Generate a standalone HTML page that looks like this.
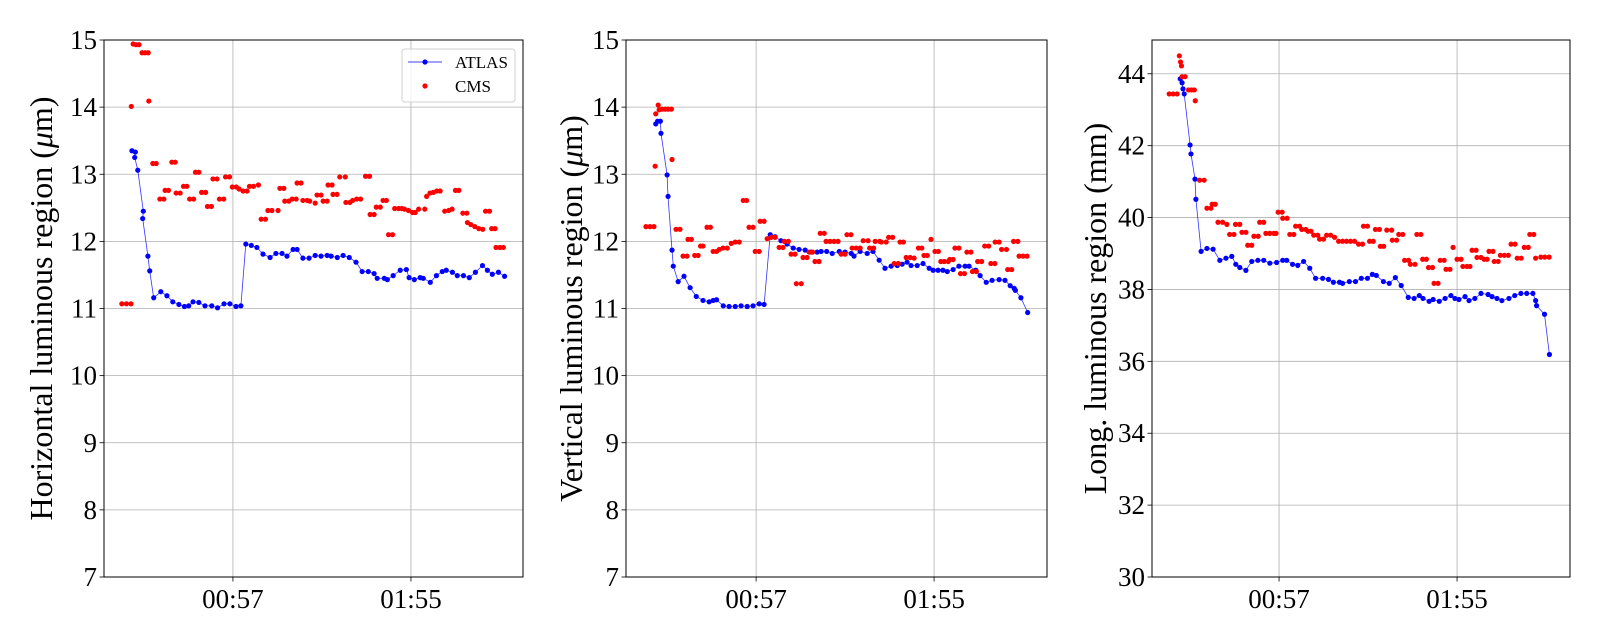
<!DOCTYPE html>
<html><head><meta charset="utf-8"><style>
html,body{margin:0;padding:0;background:#fff}
svg{display:block;font-family:"Liberation Serif",serif}
</style></head><body>
<svg id="chart" width="1600" height="640" viewBox="0 0 1600 640" xmlns="http://www.w3.org/2000/svg"></svg>
<script>
// ---------- data ----------
const xTickLabels = ["00:57","01:55"];
const xTickMinutes = [57,115];
const p1YTicks = [7,8,9,10,11,12,13,14,15];
const p2YTicks = [7,8,9,10,11,12,13,14,15];
const p3YTicks = [30,32,34,36,38,40,42,44];
const seriesNames = ["ATLAS","CMS"];

const p1AtlasT = [24.1,25.2,25.0,26.0,27.8,27.6,29.3,29.9,31.2,33.5,35.5,37.4,39.4,41.2,42.6,44.0,45.9,47.9,50.1,52.0,54.1,56.0,58.0,59.6,61.2,63.0,64.8,66.8,69.1,71.0,73.0,74.6,76.6,77.9,79.8,81.8,83.8,85.7,87.7,89.0,91.0,92.9,94.9,97.1,99.1,101.1,103.0,104.0,106.3,107.3,109.2,111.5,113.5,114.4,116.1,118.0,119.0,121.3,123.3,125.2,126.5,128.5,130.1,132.1,134.0,136.0,138.3,139.9,141.5,143.5,145.5];
const p1AtlasV = [13.35,13.33,13.25,13.06,12.45,12.34,11.78,11.56,11.16,11.25,11.19,11.10,11.06,11.03,11.04,11.10,11.09,11.04,11.04,11.01,11.07,11.07,11.03,11.04,11.96,11.94,11.91,11.81,11.76,11.82,11.82,11.78,11.88,11.88,11.75,11.75,11.79,11.78,11.79,11.78,11.76,11.79,11.76,11.69,11.55,11.55,11.52,11.45,11.45,11.43,11.49,11.57,11.58,11.46,11.43,11.46,11.45,11.39,11.49,11.55,11.57,11.54,11.49,11.49,11.46,11.54,11.64,11.57,11.51,11.54,11.48];
const p1CmsT = [20.8,22.3,23.8,23.9,24.5,25.4,26.4,27.4,28.4,29.4,29.6,30.9,32.0,33.2,34.5,34.9,36.0,37.1,38.2,38.5,39.8,40.9,42.0,42.9,44.2,44.8,45.9,46.8,48.1,48.7,50.0,50.5,51.8,52.6,54.0,54.6,55.9,56.8,58.1,59.0,60.3,61.6,62.4,63.7,65.3,66.2,67.6,68.4,69.7,71.7,72.3,73.6,73.9,75.2,76.3,77.6,77.9,79.2,79.8,81.2,82.0,83.8,84.4,85.7,86.4,87.7,88.0,89.3,89.6,90.9,91.8,93.6,93.8,95.1,96.0,97.3,98.6,100.2,101.5,101.7,103.0,103.7,105.0,105.9,107.0,107.7,109.0,109.7,111.0,112.0,112.9,114.2,115.5,116.4,117.5,119.5,120.1,121.2,122.3,123.4,124.5,126.0,127.3,128.4,129.5,130.6,131.9,133.2,133.4,134.5,135.8,137.1,138.4,139.3,140.6,141.3,142.4,142.7,144.0,145.1];
const p1CmsV = [11.07,11.07,11.07,14.01,14.94,14.93,14.93,14.81,14.81,14.81,14.09,13.16,13.16,12.63,12.63,12.76,12.76,13.18,13.18,12.72,12.72,12.82,12.82,12.63,12.63,13.03,13.03,12.73,12.73,12.52,12.52,12.93,12.93,12.63,12.63,12.96,12.96,12.81,12.81,12.78,12.75,12.75,12.82,12.82,12.84,12.33,12.33,12.46,12.46,12.46,12.79,12.79,12.60,12.60,12.63,12.63,12.87,12.87,12.61,12.61,12.60,12.57,12.69,12.69,12.60,12.60,12.84,12.84,12.70,12.70,12.96,12.96,12.58,12.58,12.61,12.63,12.63,12.97,12.97,12.40,12.40,12.51,12.51,12.61,12.61,12.10,12.10,12.49,12.49,12.49,12.48,12.46,12.43,12.43,12.48,12.48,12.67,12.72,12.73,12.75,12.75,12.45,12.46,12.48,12.76,12.76,12.42,12.42,12.28,12.25,12.22,12.19,12.18,12.45,12.45,12.19,12.19,11.91,11.91,11.91];

const p2AtlasT = [24.3,24.9,25.8,26.0,28.0,28.3,29.6,30.0,31.6,33.5,35.5,37.5,39.7,41.7,43.0,44.1,46.3,48.2,50.2,52.1,54.1,56.0,58.0,59.6,61.6,63.2,65.1,67.1,69.1,71.0,73.0,74.9,76.9,78.2,80.0,81.8,84.1,86.0,88.0,88.9,90.9,93.2,95.1,97.1,99.0,101.0,103.0,104.6,106.2,107.5,109.5,111.4,113.4,114.7,116.3,117.9,119.3,121.2,123.1,125.1,126.4,128.6,130.0,132.0,133.9,136.2,138.1,139.8,141.1,141.5,143.3,145.5];
const p2AtlasV = [13.75,13.79,13.79,13.61,12.99,12.67,11.87,11.63,11.40,11.48,11.31,11.18,11.12,11.10,11.12,11.13,11.04,11.03,11.03,11.04,11.03,11.04,11.07,11.06,12.10,12.07,12.01,11.96,11.90,11.88,11.87,11.84,11.84,11.85,11.85,11.82,11.85,11.84,11.82,11.78,11.85,11.82,11.85,11.72,11.60,11.63,11.64,11.66,11.69,11.64,11.64,11.67,11.60,11.57,11.57,11.57,11.55,11.58,11.63,11.63,11.63,11.57,11.49,11.39,11.42,11.43,11.42,11.34,11.30,11.27,11.16,10.94];
const p2CmsT = [21.1,22.4,23.7,24.1,24.3,25.1,25.4,26.4,27.4,28.3,29.4,29.6,30.9,32.2,33.2,34.5,34.8,35.9,37.0,38.1,38.9,39.7,41.0,42.1,43.0,44.1,45.0,46.2,47.6,48.9,50.2,51.5,52.8,53.9,54.7,56.0,56.7,58.0,58.3,59.6,60.6,61.9,63.2,64.5,65.8,66.2,67.5,68.4,69.7,70.1,71.7,72.3,73.6,74.3,75.4,76.2,77.5,77.9,79.2,79.8,81.1,82.4,83.7,84.7,86.0,86.6,87.9,88.3,89.6,90.9,91.9,93.5,94.0,95.3,95.8,97.3,97.8,99.4,100.2,101.5,102.0,103.3,103.9,105.0,105.9,107.2,108.5,109.9,111.0,111.7,112.8,114.0,115.3,116.4,117.2,118.3,119.6,120.1,121.2,121.8,123.1,123.6,124.9,125.7,127.0,127.5,128.8,129.2,130.5,131.5,132.8,133.5,134.8,134.9,136.2,137.0,138.6,139.0,140.3,140.9,142.3,142.7,144.0,145.3];
const p2CmsV = [12.22,12.22,12.22,13.12,13.90,14.03,13.96,13.97,13.97,13.97,13.97,13.22,12.18,12.18,11.78,11.78,12.03,12.03,11.79,11.79,11.93,11.93,12.21,12.21,11.85,11.85,11.88,11.90,11.90,11.97,11.99,11.99,12.61,12.61,12.21,12.21,11.85,11.85,12.30,12.30,12.04,12.06,12.06,11.91,11.91,12.00,12.00,11.81,11.81,11.37,11.37,11.76,11.76,11.84,11.84,11.70,11.70,12.12,12.12,12.00,12.00,12.00,12.00,11.81,11.81,12.10,12.10,11.90,11.90,11.90,12.01,12.01,11.90,11.90,12.00,12.00,11.99,11.99,12.06,12.06,11.67,11.67,11.99,11.99,11.76,11.76,11.75,11.90,11.90,11.79,11.79,12.03,11.85,11.85,11.70,11.70,11.70,11.73,11.73,11.90,11.90,11.52,11.52,11.84,11.84,11.55,11.55,11.70,11.70,11.93,11.93,11.67,11.67,11.99,11.99,11.88,11.88,11.58,11.58,12.00,12.00,11.78,11.78,11.78];

const p3AtlasT = [24.8,25.4,25.7,26.1,28.0,28.3,29.6,29.9,31.6,33.5,35.5,37.7,39.7,41.6,42.9,44.2,46.2,48.1,50.1,52.0,54.0,56.2,58.2,59.5,61.4,63.1,65.0,67.0,68.9,71.2,73.1,74.7,76.7,77.7,79.9,81.9,83.8,85.8,87.4,88.7,91.0,92.9,94.9,96.8,99.1,101.0,102.7,103.9,105.9,107.2,109.2,111.1,113.0,114.3,115.6,117.6,118.9,120.8,122.8,125.1,126.4,128.0,129.6,131.9,133.8,135.8,137.7,139.7,140.6,140.9,143.5,145.1];
const p3AtlasV = [43.86,43.75,43.58,43.44,42.02,41.77,41.07,40.51,39.06,39.14,39.12,38.81,38.87,38.92,38.70,38.61,38.53,38.78,38.81,38.81,38.73,38.75,38.81,38.81,38.70,38.67,38.78,38.59,38.31,38.31,38.28,38.20,38.20,38.17,38.22,38.22,38.31,38.31,38.42,38.39,38.22,38.17,38.33,38.11,37.78,37.75,37.83,37.75,37.67,37.72,37.67,37.75,37.83,37.75,37.72,37.80,37.69,37.75,37.89,37.86,37.80,37.75,37.69,37.75,37.83,37.89,37.89,37.89,37.69,37.55,37.31,36.19];
const p3CmsT = [21.2,22.5,23.8,24.5,24.9,25.2,25.4,26.4,27.5,28.5,29.4,29.7,31.1,32.6,33.5,34.8,35.2,36.2,37.1,38.6,40.0,40.9,42.3,42.8,44.2,44.9,46.2,46.8,48.1,48.8,50.2,50.7,52.0,52.7,54.0,55.3,56.0,56.7,58.0,58.2,59.6,60.5,61.8,62.4,63.7,64.4,65.7,66.4,67.4,68.3,69.6,70.2,71.5,72.5,73.8,75.1,76.4,77.7,79.0,80.3,81.6,82.9,84.2,84.5,85.8,86.5,87.7,88.4,89.7,90.0,91.1,92.1,93.7,93.9,95.3,96.0,97.3,97.9,99.2,99.8,101.3,101.9,103.2,103.8,105.0,105.7,107.0,107.5,108.8,109.5,110.8,111.4,112.7,113.7,115.0,116.3,116.9,118.2,119.2,119.9,121.2,121.5,122.8,123.8,124.8,125.4,126.7,127.1,128.4,129.1,130.4,131.7,132.6,133.9,134.6,135.9,136.9,138.2,138.7,140.0,140.6,142.3,143.6,145.0];
const p3CmsV = [43.44,43.44,43.44,44.50,44.33,44.22,43.92,43.92,43.55,43.55,43.55,43.25,41.04,41.04,40.26,40.26,40.37,40.37,39.87,39.87,39.81,39.53,39.53,39.81,39.81,39.59,39.59,39.23,39.23,39.48,39.48,39.87,39.87,39.56,39.56,39.56,39.56,40.15,40.15,39.98,39.98,39.53,39.53,39.76,39.76,39.67,39.67,39.62,39.62,39.51,39.51,39.40,39.40,39.51,39.51,39.45,39.34,39.34,39.34,39.34,39.34,39.26,39.26,39.76,39.76,39.34,39.34,39.67,39.67,39.20,39.20,39.65,39.65,39.37,39.37,39.53,39.53,38.81,38.81,38.70,38.70,39.53,39.53,38.84,38.84,38.61,38.61,38.17,38.17,38.81,38.81,38.56,38.56,39.17,38.84,38.84,38.64,38.64,38.64,39.09,39.09,38.89,38.89,38.84,38.84,39.06,39.06,38.78,38.78,38.95,38.95,38.95,39.26,39.26,38.87,38.87,39.17,39.17,39.53,39.53,38.87,38.90,38.90,38.90];

// ---------- drawing ----------
const NS = "http://www.w3.org/2000/svg";
const svg = document.getElementById("chart");
function mk(tag, attrs, parent){
  const e = document.createElementNS(NS, tag);
  for (const k in attrs) e.setAttribute(k, attrs[k]);
  (parent||svg).appendChild(e);
  return e;
}
const TOP = 40, BOT = 577;
const panels = [
  {id:"horizontal", left:104, right:523, xMin:15.0, xMax:151.5, yMin:7, yMax:15, ticks:p1YTicks,
   label:"Horizontal luminous region (", unit:"μ", unitEnd:"m)", labelX:52,
   at:p1AtlasT, av:p1AtlasV, ct:p1CmsT, cv:p1CmsV, legend:true},
  {id:"vertical", left:626, right:1047, xMin:14.6, xMax:151.8, yMin:7, yMax:15, ticks:p2YTicks,
   label:"Vertical luminous region (", unit:"μ", unitEnd:"m)", labelX:582,
   at:p2AtlasT, av:p2AtlasV, ct:p2CmsT, cv:p2CmsV},
  {id:"longitudinal", left:1152, right:1570, xMin:15.6, xMax:151.8, yMin:30, yMax:44.94, ticks:p3YTicks,
   label:"Long. luminous region (mm)", labelX:1106,
   at:p3AtlasT, av:p3AtlasV, ct:p3CmsT, cv:p3CmsV}
];

panels.forEach(p => {
  const g = mk("g", {});
  
  
  const sx = t => p.left + (t - p.xMin) / (p.xMax - p.xMin) * (p.right - p.left);
  const sy = v => BOT - (v - p.yMin) / (p.yMax - p.yMin) * (BOT - TOP);

  p.ticks.forEach(v => {
    const y = sy(v);
    const l = mk("line", {x1:p.left, x2:p.right, y1:y, y2:y, stroke:"#b0b0b0", "stroke-width":0.8}, g);
    
    
    const tk = mk("line", {x1:p.left-4.5, x2:p.left, y1:y, y2:y, stroke:"#000", "stroke-width":0.8}, g);
    
    
    const tx = mk("text", {x:p.left-7, y:y+9, "text-anchor":"end", "font-size":27, fill:"#000"}, g);
    tx.textContent = String(v);
    
    
  });
  xTickMinutes.forEach((m, i) => {
    const x = sx(m);
    const l = mk("line", {x1:x, x2:x, y1:TOP, y2:BOT, stroke:"#b0b0b0", "stroke-width":0.8}, g);
    
    
    const tk = mk("line", {x1:x, x2:x, y1:BOT, y2:BOT+4.5, stroke:"#000", "stroke-width":0.8}, g);
    
    
    const tx = mk("text", {x:x, y:BOT+31, "text-anchor":"middle", "font-size":27, fill:"#000"}, g);
    tx.textContent = xTickLabels[i];
    
    
  });

  let d = "";
  p.at.forEach((t, i) => { d += (i ? "L" : "M") + sx(t).toFixed(1) + "," + sy(p.av[i]).toFixed(1); });
  const line = mk("path", {d:d, fill:"none", stroke:"#0000ff", "stroke-width":0.8, "stroke-opacity":0.8}, g);
  
  
  p.at.forEach((t, i) => {
    const c = mk("circle", {cx:sx(t), cy:sy(p.av[i]), r:2.6, fill:"#0000ff"}, g);
    
    
  });
  p.ct.forEach((t, i) => {
    const c = mk("circle", {cx:sx(t), cy:sy(p.cv[i]), r:2.6, fill:"#ff0000"}, g);
    
    
  });

  const fr = mk("rect", {x:p.left, y:TOP, width:p.right-p.left, height:BOT-TOP, fill:"none", stroke:"#000", "stroke-width":1}, g);
  
  

  const cy = (TOP + BOT) / 2;
  const yl = mk("text", {x:p.labelX, y:cy, "text-anchor":"middle", "font-size":32, fill:"#000",
    transform:"rotate(-90 " + p.labelX + " " + cy + ")"}, g);
  
  
  if (p.unit) {
    const a = mk("tspan", {}, yl); a.textContent = p.label;
    const b = mk("tspan", {"font-style":"italic"}, yl); b.textContent = p.unit;
    const c = mk("tspan", {}, yl); c.textContent = p.unitEnd;
  } else yl.textContent = p.label;

  if (p.legend) {
    const lg = mk("g", {}, g);
    
    
    mk("rect", {x:402, y:49, width:113, height:53, rx:3, fill:"#fff", "fill-opacity":0.8, stroke:"#d0d0d0", "stroke-width":1}, lg);
    const ll = mk("line", {x1:408, x2:442, y1:62, y2:62, stroke:"#0000ff", "stroke-width":0.8}, lg);
    
    
    mk("circle", {cx:425, cy:62, r:2.6, fill:"#0000ff"}, lg);
    const t1 = mk("text", {x:455, y:68, "font-size":17, fill:"#000"}, lg);
    t1.textContent = seriesNames[0];
    
    
    const m2 = mk("circle", {cx:425, cy:86, r:2.6, fill:"#ff0000"}, lg);
    
    
    const t2 = mk("text", {x:455, y:92, "font-size":17, fill:"#000"}, lg);
    t2.textContent = seriesNames[1];
    
    
  }
});
</script>
</body></html>
